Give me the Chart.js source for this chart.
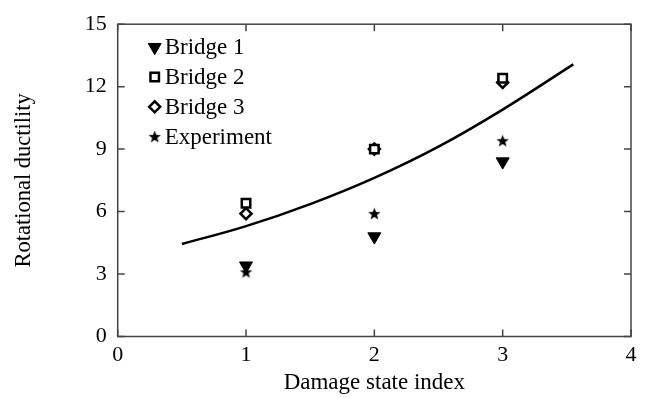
<!DOCTYPE html>
<html>
<head>
<meta charset="utf-8">
<script src="https://cdn.jsdelivr.net/npm/chart.js@4"></script>
<style>
  html, body { margin: 0; padding: 0; background: #fff; }
  #wrap { width: 651px; height: 398px; }
</style>
</head>
<body>
<div id="wrap"><canvas id="myChart" width="651" height="398"></canvas></div>
<script>
// values
var damageIdx = [1, 2, 3];
var bridge1 = [3.4, 4.8, 8.4];
var bridge2 = [6.4, 9.0, 12.4];
var bridge3 = [5.9, 9.0, 12.2];
var experiment = [3.1, 5.9, 9.4];
// fitted curve, read at a few points
var fitX = [0.5, 1.0, 1.5, 2.0, 2.5, 3.0, 3.55];
var fitY = [4.44, 5.3, 6.36, 7.62, 9.12, 10.9, 13.07];
var xTicks = [0, 1, 2, 3, 4];
var yTicks = [0, 3, 6, 9, 12, 15];

var serif = "'Liberation Serif', 'DejaVu Serif', serif";

function pts(xs, ys) {
  return xs.map(function (x, i) { return { x: x, y: ys[i] }; });
}

// filled five point star for the experiment marker
function makeStar(r) {
  var c = document.createElement('canvas');
  c.width = c.height = Math.ceil(r * 2 + 2);
  var g = c.getContext('2d');
  var cx = c.width / 2, cy = c.height / 2 + 0.5;
  g.beginPath();
  for (var i = 0; i < 10; i++) {
    var rad = i % 2 === 0 ? r : r * 0.42;
    var a = -Math.PI / 2 + i * Math.PI / 5;
    g.lineTo(cx + rad * Math.cos(a), cy + rad * Math.sin(a));
  }
  g.closePath();
  g.fillStyle = '#000';
  g.fill();
  return c;
}
var star = makeStar(6.5);

// box frame with inward ticks on all four sides
var framePlugin = {
  id: 'frame',
  afterDraw: function (chart) {
    var ctx = chart.ctx, a = chart.chartArea;
    var xs = chart.scales.x, ys = chart.scales.y;
    ctx.save();
    ctx.strokeStyle = '#444';
    ctx.lineWidth = 1.5;
    ctx.strokeRect(a.left, a.top, a.right - a.left, a.bottom - a.top);
    ctx.beginPath();
    xTicks.forEach(function (v) {
      var px = xs.getPixelForValue(v);
      ctx.moveTo(px, a.bottom); ctx.lineTo(px, a.bottom - 7);
      ctx.moveTo(px, a.top); ctx.lineTo(px, a.top + 7);
    });
    yTicks.forEach(function (v) {
      var py = ys.getPixelForValue(v);
      ctx.moveTo(a.left, py); ctx.lineTo(a.left + 7, py);
      ctx.moveTo(a.right, py); ctx.lineTo(a.right - 7, py);
    });
    ctx.stroke();
    ctx.restore();
  }
};

// legend drawn inside the plot, top left
var legendPlugin = {
  id: 'innerLegend',
  afterDatasetsDraw: function (chart) {
    var ctx = chart.ctx, a = chart.chartArea;
    var items = chart.data.datasets.filter(function (d) { return d.inLegend; });
    ctx.save();
    ctx.font = '23px ' + serif;
    ctx.textBaseline = 'middle';
    items.forEach(function (d, i) {
      var mx = a.left + 37, my = a.top + 23 + i * 29.8;
      ctx.fillStyle = d.backgroundColor;
      ctx.strokeStyle = d.borderColor;
      ctx.lineWidth = d.borderWidth;
      Chart.helpers.drawPoint(ctx, {
        pointStyle: d.pointStyle,
        rotation: d.rotation || 0,
        radius: d.pointRadius,
        borderWidth: d.borderWidth
      }, mx, my);
      ctx.fillStyle = '#000';
      ctx.fillText(d.label, a.left + 47, my + 1);
    });
    ctx.restore();
  }
};

var mychart = document.getElementById('myChart').getContext('2d');
var myChart = new Chart(mychart, {
  type: 'scatter',
  data: {
    datasets: [
      {
        label: 'Bridge 1', inLegend: true,
        data: pts(damageIdx, bridge1),
        pointStyle: 'triangle', rotation: 180, pointRadius: 7.5,
        backgroundColor: '#000', borderColor: '#000', borderWidth: 1
      },
      {
        label: 'Bridge 2', inLegend: true,
        data: pts(damageIdx, bridge2),
        pointStyle: 'rect', pointRadius: 6,
        backgroundColor: '#fff', borderColor: '#000', borderWidth: 2.5
      },
      {
        label: 'Bridge 3', inLegend: true,
        data: pts(damageIdx, bridge3),
        pointStyle: 'rectRot', pointRadius: 5.5,
        backgroundColor: '#fff', borderColor: '#000', borderWidth: 2.5
      },
      {
        label: 'Experiment', inLegend: true,
        data: pts(damageIdx, experiment),
        pointStyle: star, pointRadius: 6,
        backgroundColor: '#000', borderColor: '#000', borderWidth: 1
      },
      {
        label: 'fit', type: 'line',
        data: pts(fitX, fitY),
        showLine: true, pointRadius: 0, fill: false,
        borderColor: '#000', borderWidth: 2.5,
        tension: 0.4
      }
    ]
  },
  options: {
    responsive: false,
    animation: false,
    layout: { padding: { left: 0, top: 14, right: 20, bottom: 0 } },
    plugins: {
      legend: { display: false },
      tooltip: { enabled: false }
    },
    scales: {
      x: {
        type: 'linear', min: 0, max: 4,
        afterFit: function (s) { s.height = 61.5; },
        afterBuildTicks: function (s) { s.ticks = xTicks.map(function (v) { return { value: v }; }); },
        grid: { display: false, drawTicks: false },
        border: { display: false },
        ticks: { color: '#000', padding: 6, font: { family: serif, size: 22 } },
        title: {
          display: true, text: 'Damage state index', color: '#000',
          font: { family: serif, size: 23 }, padding: { top: 0, bottom: 1 }
        }
      },
      y: {
        type: 'linear', min: 0, max: 15,
        afterFit: function (s) { s.width = 117.7; },
        afterBuildTicks: function (s) { s.ticks = yTicks.map(function (v) { return { value: v }; }); },
        grid: { display: false, drawTicks: false },
        border: { display: false },
        ticks: { color: '#000', padding: 11, font: { family: serif, size: 22 } },
        title: {
          display: true, text: 'Rotational ductility', color: '#000',
          font: { family: serif, size: 22.5 }, padding: { top: 11, bottom: 0 }
        }
      }
    }
  },
  plugins: [framePlugin, legendPlugin]
});
</script>
</body>
</html>
